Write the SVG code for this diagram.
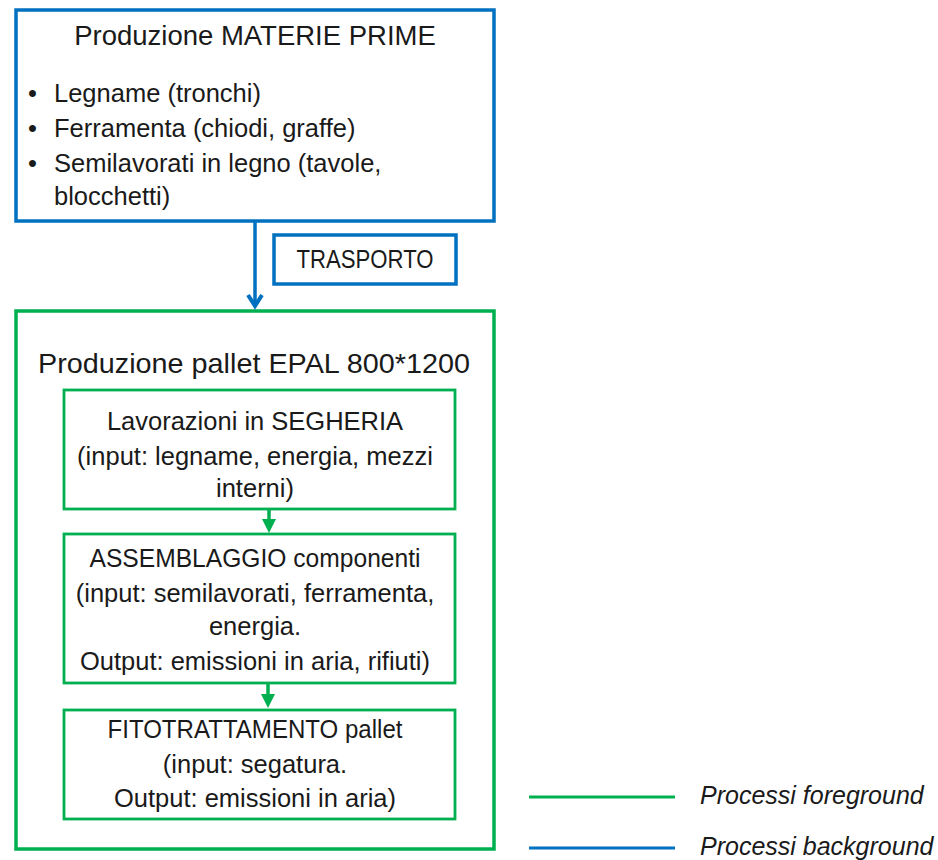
<svg xmlns="http://www.w3.org/2000/svg" width="938" height="860" viewBox="0 0 938 860">
<style>
.t{font-family:"Liberation Sans",Arial,sans-serif;fill:#1a1a1a;}
.title{font-size:27.5px;text-anchor:middle;}
.body{font-size:25.5px;}
.c{text-anchor:middle;}
.blue{fill:none;stroke:#0070C0;stroke-width:3.5;}
.green{fill:none;stroke:#00B050;stroke-width:3.5;}
.green2{fill:none;stroke:#00B050;stroke-width:2.8;}
.leg{font-size:25px;font-style:italic;}
</style>
<rect width="938" height="860" fill="#ffffff"/>
<g id="materie-prime">
<rect class="blue" x="16" y="10" width="478" height="211"/>
<text class="t title" x="255" y="45">Produzione MATERIE PRIME</text>
<text class="t body" x="28" y="102">•</text>
<text class="t body" x="54" y="102">Legname (tronchi)</text>
<text class="t body" x="28" y="137">•</text>
<text class="t body" x="54" y="137">Ferramenta (chiodi, graffe)</text>
<text class="t body" x="28" y="172">•</text>
<text class="t body" x="54" y="172">Semilavorati in legno (tavole,</text>
<text class="t body" x="54" y="205">blocchetti)</text>
</g>
<g id="trasporto">
<rect class="blue" x="274" y="235" width="182" height="49"/>
<text class="t c" x="365" y="268" font-size="25" textLength="137" lengthAdjust="spacingAndGlyphs">TRASPORTO</text>
</g>
<g id="produzione-pallet">
<rect class="green" x="16" y="311" width="478" height="538"/>
<text class="t c" x="254" y="373" font-size="28.5" textLength="432" lengthAdjust="spacingAndGlyphs">Produzione pallet EPAL 800*1200</text>
</g>
<g id="segheria">
<rect class="green2" x="64" y="390" width="391" height="119"/>
<text class="t body c" x="255" y="430">Lavorazioni in SEGHERIA</text>
<text class="t body c" x="255" y="465">(input: legname, energia, mezzi</text>
<text class="t body c" x="255" y="497">interni)</text>
</g>
<g id="assemblaggio">
<rect class="green2" x="64" y="534" width="391" height="149"/>
<text class="t body c" x="255" y="567" textLength="331" lengthAdjust="spacingAndGlyphs">ASSEMBLAGGIO componenti</text>
<text class="t body c" x="255" y="602">(input: semilavorati, ferramenta,</text>
<text class="t body c" x="255" y="635">energia.</text>
<text class="t body c" x="255" y="670">Output: emissioni in aria, rifiuti)</text>
</g>
<g id="fitotrattamento">
<rect class="green2" x="64" y="710" width="391" height="109"/>
<text class="t body c" x="255" y="738" textLength="295" lengthAdjust="spacingAndGlyphs">FITOTRATTAMENTO pallet</text>
<text class="t body c" x="255" y="773">(input: segatura.</text>
<text class="t body c" x="255" y="807">Output: emissioni in aria)</text>
</g>
<g id="connectors">
<line x1="255" y1="221" x2="255" y2="306" stroke="#0070C0" stroke-width="3.5"/>
<polyline points="248,295 255,306 262,295" fill="none" stroke="#0070C0" stroke-width="4" stroke-linejoin="miter"/>
<line x1="269" y1="509" x2="269" y2="521" stroke="#00B050" stroke-width="3.5"/>
<polygon points="262,519 276,519 269,533" fill="#00B050"/>
<line x1="268" y1="683" x2="268" y2="696" stroke="#00B050" stroke-width="3.5"/>
<polygon points="261,694 275,694 268,708" fill="#00B050"/>
</g>
<g id="legenda">
<line x1="529" y1="797" x2="675" y2="797" stroke="#00B050" stroke-width="3"/>
<text class="t leg" x="700" y="804">Processi foreground</text>
<line x1="529" y1="848" x2="675" y2="848" stroke="#0070C0" stroke-width="3"/>
<text class="t leg" x="700" y="855">Processi background</text>
</g>
</svg>
